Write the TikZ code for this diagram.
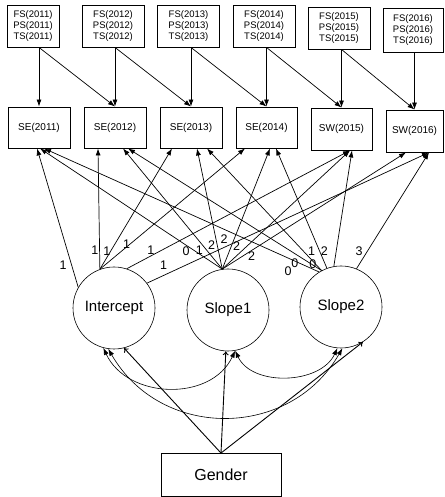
\documentclass[tikz,border=0pt]{standalone}
\usepackage{fontspec}
\setmainfont{Liberation Sans}
\usetikzlibrary{arrows.meta, calc}

\tikzset{
  indbox/.style={draw, line width=0.9pt, minimum width=62pt, minimum height=42pt,
    inner sep=1pt, align=center, font=\fontsize{9.5}{11}\selectfont},
  obsbox/.style={draw, line width=0.9pt, minimum width=62pt, minimum height=41pt,
    inner sep=1pt, font=\fontsize{10}{12}\selectfont},
  latent/.style={draw, circle, line width=0.6pt, minimum size=82pt, inner sep=0pt,
    font=\fontsize{15}{18}\selectfont},
  path/.style={-{Latex[length=7pt,width=5pt]}, line width=0.7pt},
  regr/.style={-{To[length=4pt,width=6pt]}, line width=0.9pt},
  cov/.style={{Latex[length=7pt,width=5pt]}-{Latex[length=7pt,width=5pt]}, line width=0.6pt},
  ld/.style={inner sep=0pt, font=\fontsize{12.5}{14}\selectfont}
}

\begin{document}
\begin{tikzpicture}[x=1pt, y=1pt]
\useasboundingbox (0,0) rectangle (444,497);
% indicators
\node[indbox, minimum width=52pt] (f1) at (33,471) {FS(2011)\\PS(2011)\\TS(2011)};
\node[indbox] (f2) at (113,471) {FS(2012)\\PS(2012)\\TS(2012)};
\node[indbox] (f3) at (188.5,471) {FS(2013)\\PS(2013)\\TS(2013)};
\node[indbox] (f4) at (264,471) {FS(2014)\\PS(2014)\\TS(2014)};
\node[indbox] (f5) at (339,469) {FS(2015)\\PS(2015)\\TS(2015)};
\node[indbox, minimum width=60pt, minimum height=44pt] (f6) at (413,467) {FS(2016)\\PS(2016)\\TS(2016)};
\node[obsbox] (e1) at (39,369.5) {SE(2011)};
\node[obsbox] (e2) at (115,369.5) {SE(2012)};
\node[obsbox] (e3) at (191,369.5) {SE(2013)};
\node[obsbox, minimum width=61pt] (e4) at (266.5,369.5) {SE(2014)};
\node[obsbox, minimum width=61pt, minimum height=42pt] (e5) at (341.5,368) {SW(2015)};
\node[obsbox, minimum width=57pt, minimum height=42pt] (e6) at (414.5,366) {SW(2016)};
\draw[path] (f1.south -| e1.north) -- (e1.north);
\draw[path] (f1.south -| e1.north) -- (e2.north);
\draw[path] (f2.south -| e2.north) -- (e2.north);
\draw[path] (f2.south -| e2.north) -- (e3.north);
\draw[path] (f3.south -| e3.north) -- (e3.north);
\draw[path] (f3.south -| e3.north) -- (e4.north);
\draw[path] (f4.south -| e4.north) -- (e4.north);
\draw[path] (f4.south -| e4.north) -- (e5.north);
\draw[path] (f5.south -| e5.north) -- (e5.north);
\draw[path] (f5.south -| e5.north) -- (e6.north);
\draw[path] (f6.south -| e6.north) -- (e6.north);
% growth factors
\node[latent] (int) at (114,189) {Intercept};
\node[latent] (slp1) at (228,187) {Slope1};
\node[latent] (slp2) at (341,190) {Slope2};
\node[draw, line width=0.9pt, minimum width=120pt, minimum height=43pt,
  font=\fontsize{16}{18}\selectfont] (gen) at (221,22) {Gender};
% loadings
\draw[path] (int.150) -- ($(e1.south)+(-2,0)$) node[ld, pos=0.161, xshift=-8.5pt] (li1) {1};
\draw[path] (int.110) -- ($(e2.south)+(-17,0)$) node[ld, pos=0.16, xshift=-4.7pt] (li2) {1};
\draw[path] (int.110) -- ($(e3.south)+(-19,0)$) node[ld, pos=0.152, xshift=-4pt] (li3) {1};
\draw[path] (int.110) -- ($(e4.south)+(-21.5,0)$) node[ld, pos=0.207, xshift=-3.3pt] (li4) {1};
\draw[path] (int.72) -- ($(e5.south)+(8.5,0)$) node[ld, pos=0.16, xshift=-11.7pt] (li5) {1};
\draw[path] (int.37) -- ($(e6.south)+(14.5,0)$) node[ld, pos=0.059, yshift=10.6pt] (li6) {1};
\draw[path] (slp1.98) -- ($(e1.south)+(1,0)$) node[ld, pos=0.199, yshift=-6.5pt] (la1) {0};
\draw[path] (slp1.98) -- ($(e2.south)+(8,0)$) node[ld, pos=0.16, xshift=-7pt] (la2) {1};
\draw[path] (slp1.98) -- ($(e3.south)+(6,0)$) node[ld, pos=0.201, xshift=-5.5pt] (la3) {2};
\draw[path] (slp1.98) -- ($(e4.south)+(3.5,0)$) node[ld, pos=0.25, xshift=-10pt] (la4) {2};
\draw[path] (slp1.98) -- ($(e5.south)+(8.5,0)$) node[ld, pos=0.19, xshift=-10pt] (la5) {2};
\draw[path] (slp1.98) -- ($(e6.south)+(-8.5,0)$) node[ld, pos=0.16, yshift=-6pt] (la6) {2};
\draw[path] (slp2.122) -- ($(e1.south)+(5,0)$) node[ld, pos=0.113, yshift=-13.5pt] (lb1) {0};
\draw[path] (slp2.118) -- ($(e2.south)+(13,0)$) node[ld, pos=0.138, yshift=-9.5pt] (lb2) {0};
\draw[path] (slp2.118) -- ($(e3.south)+(16,0)$) node[ld, pos=0.05, xshift=-3pt] (lb3) {0};
\draw[path] (slp2.110) -- ($(e4.south)+(9.5,0)$) node[ld, pos=0.145, xshift=-8pt] (lb4) {1};
\draw[path] (slp2.100) -- ($(e5.south)+(10.5,0)$) node[ld, pos=0.135, xshift=-12pt] (lb5) {2};
\draw[path] (slp2.68) -- ($(e6.south)+(14.5,0)$) node[ld, pos=0.148, xshift=-8pt] (lb6) {3};
% covariances
\draw[cov] (int.255) to[out=-65, in=-115, looseness=1.1] (slp1.280);
\draw[cov] (int.262) to[out=-60, in=-120, looseness=1.15] (slp2.272);
\draw[cov] (slp1.280) to[out=-65, in=-115] (slp2.265);
% covariate
\draw[regr] (gen.north) -- (int.284);
\draw[regr] (gen.north) -- (slp1.267);
\draw[regr] (gen.north) -- (slp2.302);
\end{tikzpicture}
\end{document}
